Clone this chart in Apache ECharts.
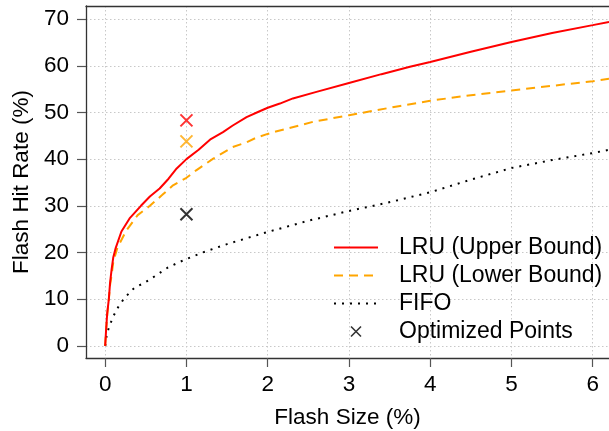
<!DOCTYPE html>
<html>
<head>
<meta charset="utf-8">
<script src="https://cdn.jsdelivr.net/npm/echarts@6/dist/echarts.min.js"></script>
<style>html,body{margin:0;padding:0;background:#fff}#c{width:609px;height:431px}</style>
</head>
<body>
<div id="c"></div>
<script>
const xTicks = [0, 1, 2, 3, 4, 5, 6];
const yTicks = [0, 10, 20, 30, 40, 50, 60, 70];

const lruUpperX = [0, 0.01, 0.025, 0.045, 0.06, 0.08, 0.1, 0.13, 0.2, 0.3, 0.44, 0.55, 0.67, 0.78, 0.88, 1.0, 1.15, 1.3, 1.45, 1.57, 1.74, 1.88, 2.0, 2.15, 2.31, 2.6, 3.0, 3.4, 3.75, 4.0, 4.5, 5.0, 5.5, 6.0, 6.2];
const lruUpperY = [0, 3, 7, 10, 13.5, 16.5, 19, 21, 24.5, 27.3, 30, 32, 33.7, 35.8, 38, 40, 42, 44.3, 45.8, 47.2, 49, 50.1, 51, 51.9, 53, 54.4, 56.3, 58.2, 59.8, 60.8, 63, 65.1, 67, 68.7, 69.4];

const lruLowerX = [0, 0.01, 0.025, 0.045, 0.06, 0.078, 0.1, 0.15, 0.26, 0.4, 0.55, 0.7, 0.835, 1.0, 1.12, 1.33, 1.57, 1.74, 1.86, 2.0, 2.1, 2.56, 3.0, 3.63, 4.0, 4.5, 5.0, 5.5, 6.0, 6.2];
const lruLowerY = [0, 3, 6.5, 10, 13, 15, 18, 21, 24.7, 28, 30, 32.3, 34.4, 36, 37.6, 40.1, 42.6, 43.6, 44.6, 45.4, 45.9, 48, 49.4, 51.4, 52.5, 53.7, 54.7, 55.7, 56.7, 57.2];

const fifoX = [0, 0.02, 0.055, 0.105, 0.166, 0.24, 0.363, 0.46, 0.548, 0.774, 0.958, 1.2, 1.5, 2.0, 2.5, 3.0, 3.46, 4.0, 4.5, 5.0, 5.5, 6.0, 6.2];
const fifoY = [0, 2.5, 4.4, 6.5, 8.5, 10.3, 12.5, 13.3, 14.2, 16.8, 18.3, 20, 21.8, 24.4, 26.8, 28.9, 30.6, 32.9, 35.6, 38.1, 39.8, 41.3, 42.0];

const optX = [1, 1, 1];
const optY = [48.3, 43.8, 28.2];
const optColors = ['#ff0000', '#ffa500', '#000000'];

const seriesNames = ['LRU (Upper Bound)', 'LRU (Lower Bound)', 'FIFO', 'Optimized Points'];

const zip = (xs, ys) => xs.map((x, i) => [x, ys[i]]);
const FONT = 'Liberation Sans, Arial, Helvetica, sans-serif';
const crossPath = 'path://M0,0L1,1M1,0L0,1';
const crossLegend = 'path://M-0.2,-0.2M1.2,1.2M0,0L1,1M1,0L0,1';
const noSymbol = {color: 'rgba(0,0,0,0)', borderColor: 'rgba(0,0,0,0)', borderWidth: 0, opacity: 0};

const chart = echarts.init(document.getElementById('c'), null, {renderer: 'canvas'});
const axisLineStyle = {color: '#333', width: 1.3};
const gridStyle = {color: '#c8c8c8', width: 1, type: [1.5, 2.5]};

chart.setOption({
  animation: false,
  backgroundColor: '#fff',
  textStyle: {fontFamily: FONT},
  grid: {left: 86, right: 0, top: 6, bottom: 73, containLabel: false, outerBoundsMode: 'none'},
  xAxis: [{
    type: 'value', min: -0.236, max: 6.2, position: 'bottom',
    axisLine: {show: true, onZero: false, lineStyle: axisLineStyle},
    axisTick: {show: true, customValues: xTicks, length: 9, lineStyle: {color: '#555', width: 1.2}},
    axisLabel: {customValues: xTicks, fontSize: 22.5, color: '#000', margin: 15, fontFamily: FONT},
    splitLine: {show: true, lineStyle: gridStyle},
    name: 'Flash Size (%)', nameLocation: 'middle', nameGap: 48,
    nameTextStyle: {fontSize: 22.5, color: '#000', fontFamily: FONT}
  }, {
    type: 'value', min: -0.236, max: 6.2, position: 'top',
    axisLine: {show: true, onZero: false, lineStyle: axisLineStyle},
    axisTick: {show: false}, axisLabel: {show: false}, splitLine: {show: false}
  }],
  yAxis: {
    type: 'value', min: -2.6, max: 72.8, splitNumber: 7,
    axisLine: {show: true, onZero: false, lineStyle: axisLineStyle},
    axisTick: {show: true, customValues: yTicks, length: 9, lineStyle: {color: '#555', width: 1.2}},
    axisLabel: {customValues: yTicks, fontSize: 22.5, color: '#000', margin: 17, fontFamily: FONT},
    splitLine: {show: true, lineStyle: gridStyle},
    name: 'Flash Hit Rate (%)', nameLocation: 'middle', nameGap: 52, nameRotate: 90,
    nameTextStyle: {fontSize: 22.5, color: '#000', fontFamily: FONT}
  },
  legend: {
    orient: 'vertical', left: 333, top: 236, padding: 0,
    itemWidth: 44, itemHeight: 14, itemGap: 5,
    textStyle: {fontSize: 23, color: '#000', fontFamily: FONT, padding: [0, 0, 0, 16]},
    data: [
      {name: seriesNames[0], itemStyle: noSymbol},
      {name: seriesNames[1], itemStyle: noSymbol},
      {name: seriesNames[2], itemStyle: noSymbol},
      {name: seriesNames[3], icon: crossLegend, itemStyle: {color: 'rgba(0,0,0,0)', borderColor: '#000', borderWidth: 1.6}}
    ]
  },
  series: [
    {name: seriesNames[0], type: 'line', data: zip(lruUpperX, lruUpperY), symbol: 'none',
     lineStyle: {color: '#ff0000', width: 2}, itemStyle: {color: '#ff0000'}, z: 4},
    {name: seriesNames[1], type: 'line', data: zip(lruLowerX, lruLowerY), symbol: 'none',
     lineStyle: {color: '#ffa500', width: 2, type: [9, 6]}, itemStyle: {color: '#ffa500'}, z: 3},
    {name: seriesNames[2], type: 'line', data: zip(fifoX, fifoY), symbol: 'none',
     lineStyle: {color: '#000', width: 2, type: [2, 6]}, itemStyle: {color: '#000'}, z: 2},
    {name: seriesNames[3], type: 'scatter', symbol: crossPath, symbolSize: 12,
     itemStyle: {color: 'rgba(0,0,0,0)', borderColor: '#000', borderWidth: 2}, z: 5,
     data: optX.map((x, i) => ({value: [x, optY[i]], itemStyle: {color: 'rgba(0,0,0,0)', borderColor: optColors[i], borderWidth: 2}}))}
  ]
});
</script>
</body>
</html>
